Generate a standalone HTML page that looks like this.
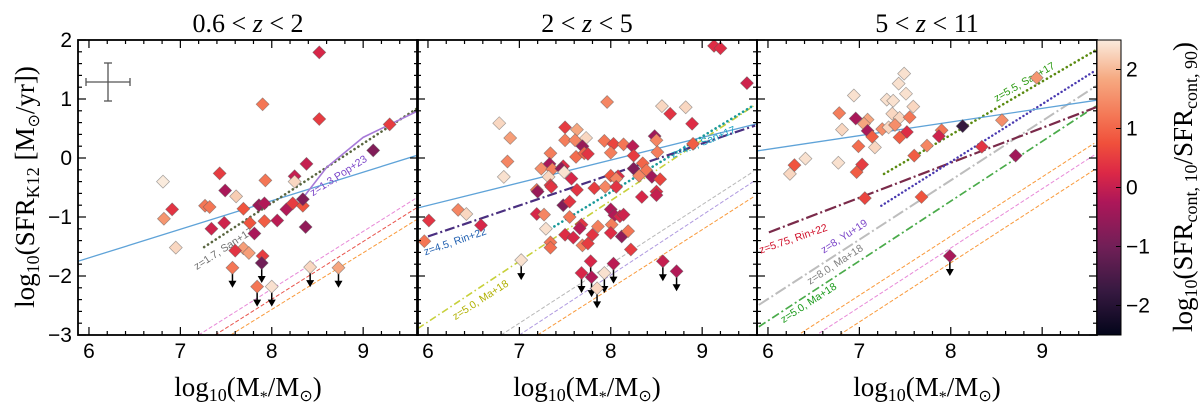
<!DOCTYPE html>
<html><head><meta charset="utf-8"><style>
body{margin:0;background:#fff;width:1200px;height:408px;overflow:hidden}
svg{display:block}
.tk{font-family:"Liberation Sans",sans-serif;font-size:21px;fill:#000}
.sf{font-family:"Liberation Serif",serif;fill:#000}
.lb{font-family:"Liberation Sans",sans-serif;font-size:10.5px}
</style></head><body>
<svg id="chart" width="1200" height="408" viewBox="0 0 1200 408" xmlns="http://www.w3.org/2000/svg"></svg>
<script>
// ---------- data ----------
const panelTitles = ["0.6 < z < 2", "2 < z < 5", "5 < z < 11"];
const xTicks = [6, 7, 8, 9];
const yTicks = [2, 1, 0, -1, -2, -3];
const cbTicks = [2, 1, 0, -1, -2];
// panel 1: [mass, sfr, colour]
const p1Mass = [8.52,7.90,8.52,9.29,9.11,8.38,6.81,7.43,7.49,7.93,8.25,8.25,7.61,6.91,6.82,7.27,7.32,7.69,7.86,7.92,8.16,8.23,8.34,8.34,8.37,8.06,7.92,7.76,7.48,7.34,7.81,6.95,7.69,7.75,7.60,7.90];
const p1Sfr = [1.79,0.91,0.66,0.57,0.13,-0.10,-0.40,-0.26,-0.55,-0.38,-0.31,-0.40,-0.65,-0.87,-1.03,-0.81,-0.83,-0.86,-0.80,-0.77,-0.87,-0.77,-0.81,-0.70,-1.17,-1.06,-1.07,-1.10,-1.10,-1.20,-1.28,-1.52,-1.53,-1.61,-1.57,-1.66];
const p1Col = [0.2,1.2,0.5,0.5,-0.8,0.0,2.5,0.5,-0.3,1.2,0.0,2.3,2.2,0.4,1.6,1.2,1.2,0.8,-0.5,-0.2,-0.2,0.5,0.8,-0.8,-0.6,-0.1,0.9,0.8,0.1,0.1,-0.3,2.3,1.7,1.7,0.4,0.5];
const p1LimMass = [7.57,7.89,7.84,8.00,8.42,8.73];
const p1LimSfr = [-1.86,-1.78,-2.18,-2.18,-1.85,-1.86];
const p1LimCol = [1.2,-1.0,1.2,2.4,2.3,1.8];
// panel 2
const p2Mass = [9.13,9.20,9.49,7.96,8.56,8.82,8.65,8.89,6.78,6.90,7.50,7.63,7.50,7.61,7.73,7.69,7.93,8.03,8.14,8.24,8.48,8.50,8.90,7.34,7.62,7.71,7.75,8.00,8.25,8.51,6.87,7.33,7.48,7.24,7.36,7.46,7.49,7.57,6.83,7.32,8.08,8.00,8.06,8.25,8.35,8.39,8.45,8.54,8.31,7.34,7.19,7.20,7.35,7.63,7.82,7.94,8.06,8.34,8.50,8.50,7.48,7.55,7.19,7.27,8.00,8.04,8.10,8.14,7.68,7.55,7.86,8.01,7.66,7.29,7.50,7.59,7.80,8.00,8.12,8.19,7.34,7.34,7.69,7.75,8.22,6.33,6.42,6.01,6.58,5.96];
const p2Sfr = [1.90,1.86,1.27,0.95,0.88,0.86,0.75,0.58,0.59,0.34,0.52,0.48,0.30,0.30,0.34,0.20,0.29,0.24,0.23,0.20,0.37,0.30,0.24,0.08,0.02,0.08,0.07,0.09,0.04,0.10,-0.06,-0.10,-0.14,-0.18,-0.19,-0.18,-0.24,-0.35,-0.32,-0.32,-0.31,-0.30,-0.35,-0.18,-0.09,-0.21,-0.32,-0.36,-0.30,-0.46,-0.54,-0.57,-0.49,-0.54,-0.51,-0.49,-0.49,-0.66,-0.57,-0.63,-0.80,-0.74,-0.95,-0.96,-0.87,-0.97,-0.99,-0.96,-1.13,-1.00,-1.16,-1.13,-1.19,-1.20,-1.30,-1.35,-1.30,-1.27,-1.33,-1.24,-1.43,-1.52,-1.48,-1.45,-1.55,-0.88,-0.95,-1.06,-1.14,-1.41];
const p2Col = [0.3,0.3,0.1,1.4,2.3,2.3,0.4,0.3,2.3,1.7,0.5,1.8,1.3,1.4,2.3,-0.5,1.2,0.6,1.2,-0.1,-0.4,1.4,0.9,1.3,1.1,1.0,0.4,1.3,0.5,1.3,1.4,-0.3,0.3,1.5,1.3,-0.6,2.4,0.2,2.4,2.3,0.3,0.8,1.4,-0.8,1.0,1.2,-0.4,0.6,1.4,0.5,1.2,-0.5,0.4,0.4,0.5,1.4,0.4,0.2,0.3,0.0,-0.8,0.4,0.2,1.4,-0.2,-0.2,0.2,0.1,0.4,1.2,1.3,1.3,-0.1,2.4,0.3,0.2,0.4,0.3,-0.6,1.2,1.2,1.1,1.3,0.5,0.5,1.4,2.3,0.4,0.2,1.2];
const p2LimMass = [7.02,7.68,7.78,7.79,7.85,7.93,8.03,8.57,8.72];
const p2LimSfr = [-1.73,-1.95,-1.75,-2.02,-2.21,-1.95,-1.79,-1.75,-1.92];
const p2LimCol = [2.4,0.2,0.2,-0.2,2.3,2.4,-0.1,0.0,-0.2];
// panel 3
const p3Mass = [8.94,7.49,7.43,7.51,6.94,7.30,7.37,7.59,6.78,7.36,7.44,7.55,6.96,7.09,7.05,8.56,8.13,6.81,7.09,7.25,7.32,7.39,7.52,7.90,7.14,7.44,7.87,6.99,7.17,7.74,8.34,7.60,8.71,6.29,6.41,6.24,6.77,7.03,6.97,7.06,7.68];
const p3Sfr = [1.36,1.43,1.26,1.09,1.06,0.99,0.97,0.87,0.76,0.75,0.68,0.69,0.67,0.65,0.58,0.64,0.54,0.48,0.46,0.49,0.52,0.56,0.44,0.47,0.36,0.35,0.37,0.20,0.18,0.21,0.19,0.04,0.04,-0.12,-0.01,-0.27,-0.08,-0.11,-0.24,-0.68,-0.66];
const p3Col = [1.6,2.4,2.4,2.4,2.4,2.4,2.4,2.3,1.3,2.3,2.3,1.2,-0.3,1.8,1.8,1.5,-1.8,2.3,-0.3,1.5,2.3,1.5,0.3,1.2,0.9,0.9,0.1,1.1,2.3,1.4,0.4,0.9,-0.4,0.8,2.4,2.3,2.4,0.5,0.9,0.6,0.8];
const p3LimMass = [7.99];
const p3LimSfr = [-1.66];
const p3LimCol = [-0.3];
// relations: [x0,y0,x1,y1]
const p1Blue = [5.88,-1.75,9.6,0.05];
const p1San = [7.26,-1.51,9.6,0.85];
const p1PopX = [8.34,8.6,9.0,9.6];
const p1PopY = [-0.68,-0.16,0.35,0.8];
const p1Pink = [7.2,-3,9.6,-0.66];
const p1Red = [7.38,-3,9.6,-0.83];
const p1Orange = [7.55,-3,9.6,-1.03];
const p2Blue = [5.88,-0.85,9.6,0.58];
const p2Rin = [6.0,-1.33,9.58,0.55];
const p2San = [7.34,-1.2,9.56,0.89];
const p2Ma = [5.89,-2.89,9.56,0.88];
const p2Gray = [6.8,-3,9.56,-0.23];
const p2Purple = [7.0,-3,9.56,-0.4];
const p2Orange = [7.2,-3,9.56,-0.66];
const p3Blue = [5.88,0.12,9.6,0.98];
const p3San = [7.27,-0.27,9.59,1.83];
const p3Yu = [7.24,-0.81,9.59,1.49];
const p3Ma8 = [5.9,-2.49,9.59,1.22];
const p3Ma5 = [5.9,-2.86,9.59,0.88];
const p3Rin = [6.01,-1.26,9.59,0.86];
const p3Or1 = [6.36,-2.97,9.57,0.25];
const p3Pink = [6.56,-2.97,9.57,0.05];
const p3Or2 = [6.78,-3,9.57,-0.2];

// ---------- drawing ----------
const svg = document.getElementById('chart');
const NS = 'http://www.w3.org/2000/svg';
const LEFTS = [78, 417, 757], W = 340, TOP = 40, BOT = 335, XMIN = 5.88, XMAX = 9.6, YMIN = -3, YMAX = 2;
function xs(p, x){ return LEFTS[p] + (x - XMIN) / (XMAX - XMIN) * W; }
function ys(y){ return TOP + (YMAX - y) / (YMAX - YMIN) * (BOT - TOP); }
function mk(tag, attrs, parent){ const e = document.createElementNS(NS, tag); for (const k in attrs) e.setAttribute(k, attrs[k]); (parent || svg).appendChild(e); return e; }
const stops = [[0,3,5,26],[0.15,55,25,65],[0.3,113,31,87],[0.45,173,23,89],[0.55,220,40,70],[0.65,240,80,59],[0.75,244,122,88],[0.87,246,170,130],[1,250,235,221]];
function cmap(c){
  let t = Math.max(0, Math.min(1, (c + 2.5) / 5));
  for (let i = 1; i < stops.length; i++){
    if (t <= stops[i][0]){ const a = stops[i-1], b = stops[i], f = (t - a[0]) / (b[0] - a[0]);
      return 'rgb(' + [1,2,3].map(j => Math.round(a[j] + (b[j] - a[j]) * f)).join(',') + ')'; }
  }
  return 'rgb(250,235,221)';
}
for (let p = 0; p < 3; p++){
  const cp = mk('clipPath', {id: 'clip' + p});
  mk('rect', {x: LEFTS[p], y: TOP, width: W, height: BOT - TOP}, cp);
}
function rel(p, arr, color, dash, width, name){
  const l = mk('line', {x1: xs(p, arr[0]), y1: ys(arr[1]), x2: xs(p, arr[2]), y2: ys(arr[3]), stroke: color, 'stroke-width': width, 'stroke-dasharray': dash, 'clip-path': 'url(#clip' + p + ')', 'stroke-linecap': dash.indexOf('0.1') === 0 ? 'round' : 'butt'});
  
  
}
function label(p, x, y, text, color, ang, name){
  const t = mk('text', {x: xs(p, x), y: ys(y), class: 'lb', fill: color, transform: 'rotate(' + ang + ' ' + xs(p, x) + ' ' + ys(y) + ')'});
  t.textContent = text;
  
  
}
function diamonds(p, mass, sfr, col, name){
  for (let i = 0; i < mass.length; i++){
    const cx = xs(p, mass[i]), cy = ys(sfr[i]), r = 6.5;
    const d = mk('polygon', {points: cx + ',' + (cy - r) + ' ' + (cx + r) + ',' + cy + ' ' + cx + ',' + (cy + r) + ' ' + (cx - r) + ',' + cy, fill: cmap(col[i]), stroke: 'rgba(90,90,90,0.55)', 'stroke-width': 0.7, 'clip-path': 'url(#clip' + p + ')'});
    
    
  }
}
function limits(p, mass, sfr, col){
  for (let i = 0; i < mass.length; i++){
    const cx = xs(p, mass[i]), cy = ys(sfr[i]);
    const a = mk('g', {});
    
    
    mk('line', {x1: cx, y1: cy, x2: cx, y2: cy + 15, stroke: '#000', 'stroke-width': 1.5}, a);
    mk('polygon', {points: (cx - 4) + ',' + (cy + 13) + ' ' + (cx + 4) + ',' + (cy + 13) + ' ' + cx + ',' + (cy + 20), fill: '#000'}, a);
  }
  diamonds(p, mass, sfr, col, 'upper-limit-point');
}

// panel 1 relations
rel(0, p1Pink, '#e889d8', '4,2', 1, 'pink-dashed-line');
rel(0, p1Red, '#e8544c', '4,2', 1, 'red-dashed-line');
rel(0, p1Orange, '#f99a3c', '4,2', 1, 'orange-dashed-line');
rel(0, p1Blue, '#5fa3d8', '', 1.3, 'main-sequence-fit');
rel(0, p1San, '#5a6640', '0.1,4.5', 2.6, 'san17-relation');
const pop = mk('polyline', {points: p1PopX.map((x, i) => xs(0, x) + ',' + ys(p1PopY[i])).join(' '), fill: 'none', stroke: '#a77ad8', 'stroke-width': 1.6, 'clip-path': 'url(#clip0)'});


label(0, 7.18, -1.9, 'z=1.7, San+17', '#707070', -33, 'san17-label');
label(0, 8.45, -0.65, 'z=1.3,Pop+23', '#7a44c8', -33, 'pop23-label');
// error cross
const ec = mk('g', {stroke: '#555', 'stroke-width': 1.3});


mk('line', {x1: 86, y1: 82, x2: 130, y2: 82}, ec); mk('line', {x1: 86, y1: 78, x2: 86, y2: 86}, ec); mk('line', {x1: 130, y1: 78, x2: 130, y2: 86}, ec);
mk('line', {x1: 108, y1: 63, x2: 108, y2: 101}, ec); mk('line', {x1: 104, y1: 63, x2: 112, y2: 63}, ec); mk('line', {x1: 104, y1: 101, x2: 112, y2: 101}, ec);
diamonds(0, p1Mass, p1Sfr, p1Col, 'galaxy-point');
limits(0, p1LimMass, p1LimSfr, p1LimCol);

// panel 2 relations
rel(1, p2Gray, '#b8b8b8', '4,2', 1, 'gray-dashed-line');
rel(1, p2Purple, '#b09ae0', '4,2', 1, 'purple-dashed-line');
rel(1, p2Orange, '#f99a3c', '4,2', 1, 'orange-dashed-line');
rel(1, p2Ma, '#c7d03a', '7,3,1.5,3', 1.6, 'ma18-relation');
rel(1, p2Blue, '#5fa3d8', '', 1.3, 'main-sequence-fit');
rel(1, p2San, '#1a9a9a', '0.1,4.5', 2.6, 'san17-relation');
rel(1, p2Rin, '#4a2f80', '10,3,2,3', 2.2, 'rin22-relation');
label(1, 5.97, -1.65, 'z=4.5, Rin+22', '#1f5fb0', -19, 'rin22-label');
label(1, 6.3, -2.75, 'z=5.0, Ma+18', '#b0b000', -33, 'ma18-label');
label(1, 8.68, 0.0, 'z=4.5, San+17', '#1aa0c0', -22, 'san17-label');
diamonds(1, p2Mass, p2Sfr, p2Col, 'galaxy-point');
limits(1, p2LimMass, p2LimSfr, p2LimCol);

// panel 3 relations
rel(2, p3Or1, '#f99a3c', '4,2', 1, 'orange-dashed-line');
rel(2, p3Pink, '#e889d8', '4,2', 1, 'pink-dashed-line');
rel(2, p3Or2, '#f99a3c', '4,2', 1, 'orange-dashed-line');
rel(2, p3Ma8, '#bdbdbd', '12,3,2,3', 2, 'ma18-z8-relation');
rel(2, p3Ma5, '#4aab4a', '8,3,2,3', 1.7, 'ma18-z5-relation');
rel(2, p3Rin, '#7a2a4a', '12,3,2,3', 2.2, 'rin22-relation');
rel(2, p3Yu, '#4a3ab0', '0.1,4', 2.4, 'yu19-relation');
rel(2, p3San, '#5a8a10', '0.1,4.5', 2.6, 'san17-relation');
rel(2, p3Blue, '#5fa3d8', '', 1.3, 'main-sequence-fit');
label(2, 5.92, -1.62, 'z=5.75, Rin+22', '#d0102a', -19, 'rin22-label');
label(2, 6.61, -1.62, 'z=8, Yu+19', '#7a44c8', -33, 'yu19-label');
label(2, 6.46, -2.15, 'z=8.0, Ma+18', '#808080', -33, 'ma18-z8-label');
label(2, 6.17, -2.8, 'z=5.0, Ma+18', '#1a9a1a', -33, 'ma18-z5-label');
label(2, 8.5, 0.95, 'z=5.5, San+17', '#2a9a10', -30, 'san17-label');
diamonds(2, p3Mass, p3Sfr, p3Col, 'galaxy-point');
limits(2, p3LimMass, p3LimSfr, p3LimCol);

// frames, ticks
for (let p = 0; p < 3; p++){
  const g = mk('g', {stroke: '#000', 'stroke-width': 1.2});
  
  
  mk('rect', {x: LEFTS[p], y: TOP, width: W, height: BOT - TOP, fill: 'none', 'stroke-width': 1.8}, g);
  for (let v = 6; v <= 9.6; v += 0.2){
    const X = xs(p, v), maj = Math.abs(v - Math.round(v)) < 0.01, L = maj ? 8 : 4;
    if (X < LEFTS[p] + 1) continue;
    mk('line', {x1: X, y1: BOT, x2: X, y2: BOT - L}, g); mk('line', {x1: X, y1: TOP, x2: X, y2: TOP + L}, g);
  }
  for (let v = -3; v <= 2.001; v += 0.2){
    const Y = ys(v), maj = Math.abs(v - Math.round(v)) < 0.01, L = maj ? 8 : 4;
    mk('line', {x1: LEFTS[p], y1: Y, x2: LEFTS[p] + L, y2: Y}, g); mk('line', {x1: LEFTS[p] + W, y1: Y, x2: LEFTS[p] + W - L, y2: Y}, g);
  }
  xTicks.forEach(v => { const t = mk('text', {x: xs(p, v), y: 358, 'text-anchor': 'middle', class: 'tk'}); t.textContent = v;
      });
  const ti = mk('text', {x: LEFTS[p] + W / 2, y: 32, 'text-anchor': 'middle', class: 'sf', 'font-size': 26});
  const parts = panelTitles[p].split('z');
  ti.textContent = parts[0];
  const zt = mk('tspan', {'font-style': 'italic'}, ti); zt.textContent = 'z';
  const rt = mk('tspan', {}, ti); rt.textContent = parts[1];
  
  
  const xl = mk('text', {x: LEFTS[p] + W / 2, y: 396, 'text-anchor': 'middle', class: 'sf', 'font-size': 27});
  xl.innerHTML = 'log<tspan font-size="18" dy="5">10</tspan><tspan dy="-5">(M</tspan><tspan font-size="16" dy="6">*</tspan><tspan dy="-6">/M</tspan><tspan font-size="16" dy="5">⊙</tspan><tspan dy="-5">)</tspan>';
  
  
}
yTicks.forEach(v => { const t = mk('text', {x: 72, y: ys(v) + 7, 'text-anchor': 'end', class: 'tk'}); t.textContent = v < 0 ? '−' + (-v) : v;
    });
const yl = mk('text', {x: 0, y: 0, 'text-anchor': 'middle', class: 'sf', 'font-size': 27, transform: 'translate(34,187) rotate(-90)'});
yl.innerHTML = 'log<tspan font-size="18" dy="5">10</tspan><tspan dy="-5">(SFR</tspan><tspan font-size="18" dy="5">K12</tspan><tspan dy="-5"> [M</tspan><tspan font-size="16" dy="5">⊙</tspan><tspan dy="-5">/yr])</tspan>';



// colorbar
const defs = mk('defs', {});
const grad = mk('linearGradient', {id: 'cbg', x1: 0, y1: 1, x2: 0, y2: 0}, defs);
stops.forEach(s => mk('stop', {offset: s[0], 'stop-color': 'rgb(' + s[1] + ',' + s[2] + ',' + s[3] + ')'}, grad));
const cb = mk('rect', {x: 1097, y: TOP, width: 24, height: BOT - TOP, fill: 'url(#cbg)', stroke: '#000', 'stroke-width': 1});


cbTicks.forEach(v => { const Y = TOP + (2.5 - v) / 5 * (BOT - TOP);
  mk('line', {x1: 1121, y1: Y, x2: 1116, y2: Y, stroke: '#000', 'stroke-width': 1});
  const t = mk('text', {x: 1126, y: Y + 7, class: 'tk'}); t.textContent = v < 0 ? '−' + (-v) : v;
    });
const cl = mk('text', {x: 0, y: 0, 'text-anchor': 'middle', class: 'sf', 'font-size': 27, transform: 'translate(1192,187) rotate(-90)'});
cl.innerHTML = 'log<tspan font-size="18" dy="5">10</tspan><tspan dy="-5">(SFR</tspan><tspan font-size="18" dy="5">cont, 10</tspan><tspan dy="-5">/SFR</tspan><tspan font-size="18" dy="5">cont, 90</tspan><tspan dy="-5">)</tspan>';


</script>
</body></html>
